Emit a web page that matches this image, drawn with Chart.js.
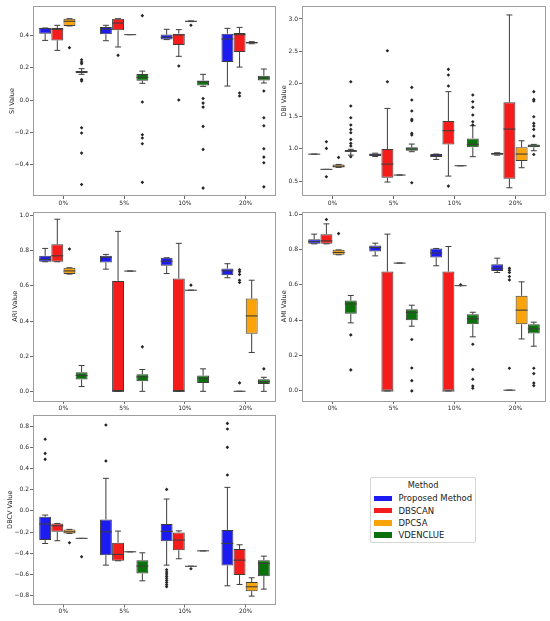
<!DOCTYPE html>
<html>
<head>
<meta charset="utf-8">
<script src="https://cdn.jsdelivr.net/npm/chart.js@4/dist/chart.umd.min.js"></script>
<style>
  html,body{margin:0;padding:0;background:#fff;}
  body{width:550px;height:621px;position:relative;overflow:hidden;font-family:"DejaVu Sans",sans-serif;}
  canvas{position:absolute;}
  #legend{position:absolute;left:370px;top:477px;width:104px;height:64px;border:1px solid #d6d6d6;border-radius:2px;background:#fff;}
  #legend .ttl{position:absolute;left:0;width:104px;top:1px;text-align:center;font-size:8.2px;color:#222;line-height:12px;}
  #legend .row{position:absolute;left:0;height:12px;width:104px;}
  #legend .sw{position:absolute;left:3px;top:3.3px;width:17.7px;height:5.5px;}
  #legend .lb{position:absolute;left:27.5px;top:0;font-size:8.5px;line-height:12px;color:#222;white-space:nowrap;}
</style>
</head>
<body>
<canvas id="cSI" width="280" height="210" style="left:0;top:0"></canvas>
<canvas id="cDBI" width="280" height="210" style="left:270px;top:0"></canvas>
<canvas id="cARI" width="280" height="210" style="left:0;top:205px"></canvas>
<canvas id="cAMI" width="280" height="210" style="left:270px;top:205px"></canvas>
<canvas id="cDBCV" width="280" height="211" style="left:0;top:410px"></canvas>
<div id="legend"></div>
<script>
// ---------------- data ----------------
const categories = ['0%', '5%', '10%', '20%'];
const methods = ['Proposed Method', 'DBSCAN', 'DPCSA', 'VDENCLUE'];
// each box: [lower whisker, Q1, median, Q3, upper whisker], one per category

const SI_PROPOSED = [[0.371,0.413,0.445,0.448,0.448],[0.369,0.409,0.440,0.454,0.465],[0.376,0.376,0.390,0.407,0.440],[0.087,0.237,0.380,0.413,0.446]];
const SI_DBSCAN   = [[0.309,0.371,0.440,0.448,0.465],[0.330,0.434,0.479,0.506,0.506],[0.272,0.342,0.405,0.413,0.438],[0.205,0.299,0.407,0.417,0.452]];
const SI_DPCSA    = [[0.461,0.461,0.490,0.506,0.506],[0.407,0.407,0.407,0.407,0.407],[0.488,0.488,0.490,0.492,0.492],[0.350,0.351,0.357,0.361,0.363]];
const SI_VDENCLUE = [[0.160,0.168,0.175,0.180,0.195],[0.104,0.120,0.141,0.162,0.180],[0.085,0.091,0.114,0.122,0.160],[0.106,0.122,0.137,0.151,0.193]];
const SI_PROPOSED_OUT = [[],[],[],[]];
const SI_DBSCAN_OUT   = [[],[0.278],[0.212,0.0],[0.044,0.025]];
const SI_DPCSA_OUT    = [[0.326],[],[0.465],[]];
const SI_VDENCLUE_OUT = [[0.251,0.236,0.226,0.127,0.118,-0.172,-0.205,-0.330,-0.525],[0.525,-0.012,-0.216,-0.236,-0.272,-0.512],[0.010,-0.019,-0.044,-0.164,-0.307,-0.548],[0.056,-0.110,-0.160,-0.303,-0.355,-0.390,-0.540]];
const SI_TICKS = [-0.4,-0.2,0.0,0.2,0.4];

const DBI_PROPOSED = [[0.915,0.915,0.915,0.915,0.915],[0.880,0.886,0.905,0.927,0.930],[0.834,0.870,0.890,0.917,0.917],[0.900,0.906,0.920,0.937,0.937]];
const DBI_DBSCAN   = [[0.680,0.680,0.680,0.680,0.680],[0.485,0.551,0.762,0.994,1.621],[0.577,1.066,1.277,1.426,1.879],[0.397,0.536,1.302,1.714,3.062]];
const DBI_DPCSA    = [[0.711,0.711,0.730,0.757,0.757],[0.593,0.593,0.593,0.593,0.593],[0.737,0.737,0.737,0.737,0.737],[0.706,0.809,0.917,1.020,1.122]];
const DBI_VDENCLUE = [[0.900,0.953,0.960,0.978,0.990],[0.953,0.968,0.994,1.020,1.071],[0.876,1.020,1.066,1.158,1.354],[0.968,1.020,1.040,1.066,1.066]];
const DBI_PROPOSED_OUT = [[],[],[],[]];
const DBI_DBSCAN_OUT   = [[1.107,1.004,0.567],[2.511,2.033],[2.223,2.136,1.966,0.423],[]];
const DBI_DPCSA_OUT    = [[0.865],[],[],[]];
const DBI_VDENCLUE_OUT = [[2.033,1.657,1.477,1.364,1.297,1.246,1.143,1.081,1.040,0.876],[1.945,1.750,1.580,1.452,1.430,1.236,1.210,0.474],[1.827,1.724,1.637,1.518,1.416,1.364],[1.879,1.760,1.735,1.493,1.390,1.349,1.297,1.194,0.911]];
const DBI_TICKS = [0.5,1.0,1.5,2.0,2.5,3.0];

const ARI_PROPOSED = [[0.737,0.737,0.750,0.771,0.813],[0.695,0.733,0.762,0.771,0.779],[0.670,0.714,0.740,0.760,0.760],[0.646,0.661,0.686,0.699,0.726]];
const ARI_DBSCAN   = [[0.737,0.737,0.771,0.836,0.979],[0.0,0.0,0.0,0.628,0.910],[0.0,0.0,0.0,0.642,0.842],[0.0,0.0,0.0,0.0,0.0]];
const ARI_DPCSA    = [[0.667,0.667,0.685,0.703,0.703],[0.684,0.684,0.684,0.684,0.684],[0.575,0.575,0.575,0.575,0.575],[0.221,0.328,0.429,0.528,0.632]];
const ARI_VDENCLUE = [[0.027,0.067,0.090,0.109,0.147],[0.0,0.057,0.082,0.097,0.124],[0.0,0.048,0.074,0.090,0.128],[0.0,0.042,0.055,0.069,0.080]];
const ARI_PROPOSED_OUT = [[],[],[],[]];
const ARI_DBSCAN_OUT   = [[],[],[],[0.691,0.680,0.665,0.632,0.619,0.048]];
const ARI_DPCSA_OUT    = [[0.810],[],[0.604],[]];
const ARI_VDENCLUE_OUT = [[],[0.253],[],[0.128]];
const ARI_TICKS = [0.0,0.2,0.4,0.6,0.8,1.0];

const AMI_PROPOSED = [[0.832,0.832,0.845,0.858,0.887],[0.764,0.789,0.811,0.823,0.836],[0.708,0.755,0.780,0.806,0.806],[0.670,0.679,0.694,0.717,0.751]];
const AMI_DBSCAN   = [[0.832,0.832,0.849,0.887,0.945],[0.0,0.0,0.0,0.675,0.887],[0.0,0.0,0.0,0.675,0.817],[0.004,0.004,0.004,0.004,0.004]];
const AMI_DPCSA    = [[0.770,0.770,0.783,0.798,0.798],[0.723,0.723,0.723,0.723,0.723],[0.596,0.596,0.596,0.596,0.596],[0.294,0.377,0.457,0.538,0.617]];
const AMI_VDENCLUE = [[0.385,0.436,0.492,0.511,0.540],[0.366,0.400,0.445,0.462,0.485],[0.306,0.377,0.408,0.434,0.445],[0.253,0.325,0.351,0.377,0.389]];
const AMI_PROPOSED_OUT = [[],[],[],[]];
const AMI_DBSCAN_OUT   = [[0.970],[],[],[0.694,0.683,0.670,0.647,0.628,0.128]];
const AMI_DPCSA_OUT    = [[0.890],[],[0.600],[]];
const AMI_VDENCLUE_OUT = [[0.317,0.119],[0.291,0.130,0.058,0.0],[0.264,0.121,0.066,0.028,0.015],[0.128,0.098,0.045,0.030]];
const AMI_TICKS = [0.0,0.2,0.4,0.6,0.8,1.0];

const DBCV_PROPOSED = [[-0.307,-0.275,-0.124,-0.055,-0.039],[-0.511,-0.417,-0.197,-0.080,0.307],[-0.511,-0.285,-0.193,-0.124,0.112],[-0.706,-0.514,-0.307,-0.181,0.222]];
const DBCV_DBSCAN   = [[-0.281,-0.197,-0.140,-0.118,-0.118],[-0.470,-0.470,-0.410,-0.300,-0.190],[-0.451,-0.370,-0.275,-0.203,-0.188],[-0.693,-0.605,-0.464,-0.360,-0.319]];
const DBCV_DPCSA    = [[-0.212,-0.212,-0.197,-0.174,-0.174],[-0.385,-0.385,-0.385,-0.385,-0.385],[-0.522,-0.522,-0.522,-0.522,-0.522],[-0.803,-0.756,-0.715,-0.671,-0.630]];
const DBCV_VDENCLUE = [[-0.259,-0.259,-0.259,-0.259,-0.259],[-0.659,-0.590,-0.520,-0.464,-0.395],[-0.376,-0.376,-0.376,-0.376,-0.376],[-0.737,-0.615,-0.495,-0.464,-0.426]];
const DBCV_PROPOSED_OUT = [[0.675,0.542,0.486],[0.810,0.470],[0.203,-0.555,-0.575,-0.595,-0.615,-0.635,-0.655,-0.675,-0.695,-0.715],[0.825,0.772,0.599,0.338]];
const DBCV_DBSCAN_OUT   = [[],[],[],[]];
const DBCV_DPCSA_OUT    = [[-0.300],[],[-0.545],[]];
const DBCV_VDENCLUE_OUT = [[-0.432],[],[],[]];
const DBCV_TICKS = [-0.8,-0.6,-0.4,-0.2,0.0,0.2,0.4,0.6,0.8];

// ---------------- styles / layout ----------------
const COLORS = ['#1c1cf0', '#f51c1c', '#fba40a', '#0b720b'];
const EDGE = '#3d3d3d';
const HUE_OFFSETS = [-0.3, -0.1, 0.1, 0.3];
const FONT = '"DejaVu Sans", sans-serif';
const X_TICKS = categories.map((c, i) => i);

const panels = [
  {id:'cSI', title:'SI Value', min:-0.597, max:0.585, ticks:SI_TICKS,
   stats:[SI_PROPOSED,SI_DBSCAN,SI_DPCSA,SI_VDENCLUE], out:[SI_PROPOSED_OUT,SI_DBSCAN_OUT,SI_DPCSA_OUT,SI_VDENCLUE_OUT],
   yW:33, xH:14, padTop:6, padRight:4, titlePad:8.3},
  {id:'cDBI', title:'DBI Value', min:0.27, max:3.2, ticks:DBI_TICKS,
   stats:[DBI_PROPOSED,DBI_DBSCAN,DBI_DPCSA,DBI_VDENCLUE], out:[DBI_PROPOSED_OUT,DBI_DBSCAN_OUT,DBI_DPCSA_OUT,DBI_VDENCLUE_OUT],
   yW:32, xH:14, padTop:6, padRight:4, titlePad:10.1},
  {id:'cARI', title:'ARI Value', min:-0.055, max:1.023, ticks:ARI_TICKS,
   stats:[ARI_PROPOSED,ARI_DBSCAN,ARI_DPCSA,ARI_VDENCLUE], out:[ARI_PROPOSED_OUT,ARI_DBSCAN_OUT,ARI_DPCSA_OUT,ARI_VDENCLUE_OUT],
   yW:33, xH:14, padTop:6.5, padRight:4, titlePad:11},
  {id:'cAMI', title:'AMI Value', min:-0.057, max:1.015, ticks:AMI_TICKS,
   stats:[AMI_PROPOSED,AMI_DBSCAN,AMI_DPCSA,AMI_VDENCLUE], out:[AMI_PROPOSED_OUT,AMI_DBSCAN_OUT,AMI_DPCSA_OUT,AMI_VDENCLUE_OUT],
   yW:32, xH:14, padTop:6.5, padRight:4, titlePad:10.3},
  {id:'cDBCV', title:'DBCV Value', min:-0.882, max:0.904, ticks:DBCV_TICKS,
   stats:[DBCV_PROPOSED,DBCV_DBSCAN,DBCV_DPCSA,DBCV_VDENCLUE], out:[DBCV_PROPOSED_OUT,DBCV_DBSCAN_OUT,DBCV_DPCSA_OUT,DBCV_VDENCLUE_OUT],
   yW:33, xH:16.5, padTop:5, padRight:4, titlePad:6.1}
];

function fmt(v){
  const s = Math.abs(v).toFixed(1);
  return (v < -1e-9 ? '\u2212' : '') + s;
}

const boxPlugin = {
  id: 'boxParts',
  beforeDatasetsDraw(chart) {
    const spec = chart.options.plugins.boxParts.spec;
    const y = chart.scales.y;
    const ctx = chart.ctx;
    ctx.save();
    ctx.strokeStyle = EDGE;
    ctx.lineWidth = 1;
    for (let k = 0; k < 4; k++) {
      const meta = chart.getDatasetMeta(k);
      meta.data.forEach((el, i) => {
        const s = spec.stats[k][i];
        const x = el.x, cw = el.width / 4;
        const pLo = y.getPixelForValue(s[0]), pQ1 = y.getPixelForValue(s[1]);
        const pQ3 = y.getPixelForValue(s[3]), pHi = y.getPixelForValue(s[4]);
        ctx.beginPath();
        ctx.moveTo(x, pQ1); ctx.lineTo(x, pLo);
        ctx.moveTo(x, pQ3); ctx.lineTo(x, pHi);
        ctx.moveTo(x - cw, pLo); ctx.lineTo(x + cw, pLo);
        ctx.moveTo(x - cw, pHi); ctx.lineTo(x + cw, pHi);
        ctx.stroke();
      });
    }
    ctx.restore();
  },
  afterDatasetsDraw(chart) {
    const spec = chart.options.plugins.boxParts.spec;
    const y = chart.scales.y;
    const ctx = chart.ctx;
    ctx.save();
    for (let k = 0; k < 4; k++) {
      const meta = chart.getDatasetMeta(k);
      meta.data.forEach((el, i) => {
        const s = spec.stats[k][i];
        const x = el.x, hw = el.width / 2;
        const pMed = y.getPixelForValue(s[2]);
        const degenerate = Math.abs(s[3] - s[1]) < 1e-9;
        ctx.strokeStyle = degenerate ? '#555' : EDGE;
        ctx.lineWidth = degenerate ? 1.2 : 1.1;
        ctx.beginPath();
        ctx.moveTo(x - hw, pMed); ctx.lineTo(x + hw, pMed);
        ctx.stroke();
      });
    }
    const a = chart.chartArea;
    ctx.strokeStyle = '#9e9e9e';
    ctx.lineWidth = 1;
    ctx.strokeRect(Math.round(a.left) + 0.5, Math.round(a.top) + 0.5, Math.round(a.right - a.left) - 1, Math.round(a.bottom - a.top) - 1);
    ctx.restore();
  }
};

panels.forEach(spec => {
  const datasets = [];
  methods.forEach((m, k) => {
    datasets.push({
      type: 'bar', label: m,
      data: spec.stats[k].map((s, i) => ({ x: i + HUE_OFFSETS[k], y: [s[1], s[3]] })),
      backgroundColor: COLORS[k], borderColor: EDGE, borderWidth: 1, borderSkipped: false,
      grouped: false, categoryPercentage: 1.0, barPercentage: 0.98, order: 2
    });
  });
  methods.forEach((m, k) => {
    const pts = [];
    spec.out[k].forEach((arr, i) => arr.forEach(v => pts.push({ x: i + HUE_OFFSETS[k], y: v })));
    datasets.push({
      type: 'scatter', label: m + ' outliers', data: pts,
      pointStyle: 'rectRot', pointRadius: 1.8,
      backgroundColor: '#262626', borderColor: '#262626', borderWidth: 0, order: 1
    });
  });
  new Chart(document.getElementById(spec.id), {
    type: 'bar',
    data: { datasets },
    plugins: [boxPlugin],
    options: {
      responsive: false, animation: false, devicePixelRatio: 1,
      layout: { padding: { top: spec.padTop, right: spec.padRight, left: 0, bottom: 0 } },
      plugins: { legend: { display: false }, tooltip: { enabled: false }, boxParts: { spec } },
      scales: {
        x: {
          type: 'linear', offset: false, min: -0.5, max: 3.5,
          afterBuildTicks: s => { s.ticks = X_TICKS.map(v => ({ value: v })); },
          grid: { display: true, offset: false, drawOnChartArea: false, drawTicks: true, tickLength: 3, color: '#444', lineWidth: 0.8 },
          border: { display: false },
          ticks: { font: { family: FONT, size: 6 }, color: '#262626', padding: 0.5, maxRotation: 0, autoSkip: false,
                   callback: v => categories[Math.round(v)] },
          afterFit: s => { s.height = spec.xH; }
        },
        y: {
          type: 'linear', min: spec.min, max: spec.max,
          afterBuildTicks: s => { s.ticks = spec.ticks.map(v => ({ value: v })); },
          grid: { display: true, drawOnChartArea: false, drawTicks: true, tickLength: 3, color: '#444', lineWidth: 0.8 },
          border: { display: false },
          ticks: { font: { family: FONT, size: 6 }, color: '#262626', padding: 1, autoSkip: false, callback: v => fmt(v) },
          title: { display: true, text: spec.title, font: { family: FONT, size: 6.5 }, color: '#262626', padding: { top: spec.titlePad, bottom: 0 } },
          afterFit: s => { s.width = spec.yW; }
        }
      }
    }
  });
});

// legend
const legend = document.getElementById('legend');
const ttl = document.createElement('div');
ttl.className = 'ttl'; ttl.textContent = 'Method';
legend.appendChild(ttl);
methods.forEach((m, k) => {
  const row = document.createElement('div');
  row.className = 'row';
  row.style.top = (14.3 + k * 12.25) + 'px';
  const sw = document.createElement('div'); sw.className = 'sw'; sw.style.background = COLORS[k];
  const lb = document.createElement('div'); lb.className = 'lb'; lb.textContent = m;
  row.appendChild(sw); row.appendChild(lb);
  legend.appendChild(row);
});
</script>
</body>
</html>
